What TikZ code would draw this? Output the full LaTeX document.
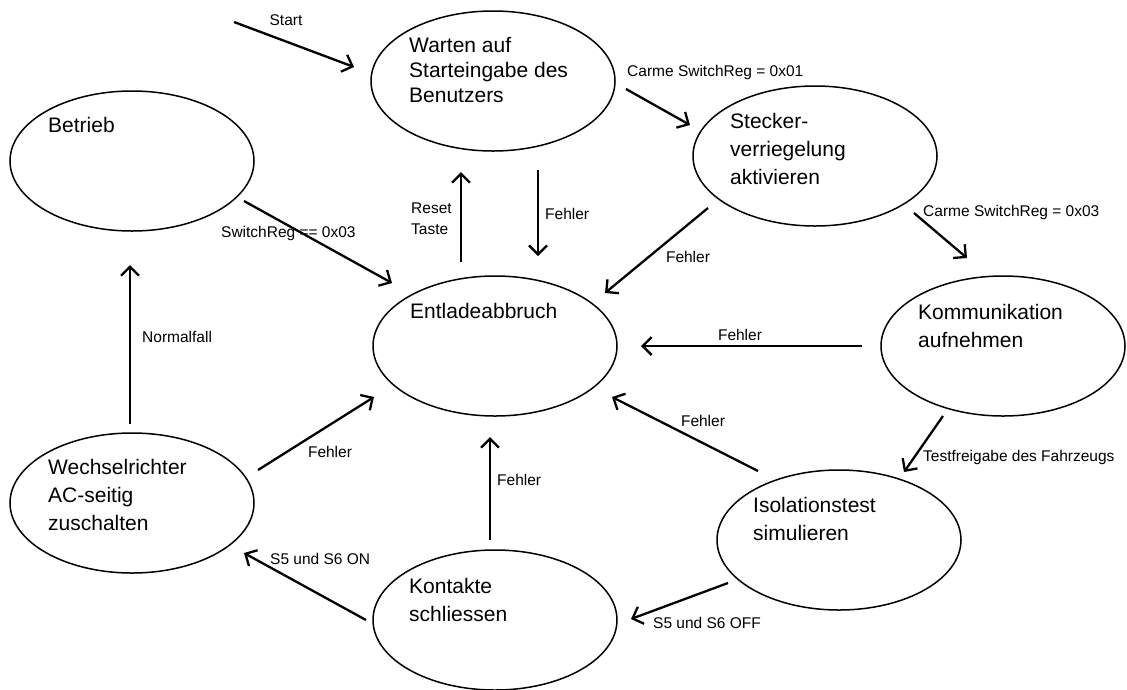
\documentclass[tikz,border=0pt]{standalone}
\usepackage{fontspec}
\setmainfont{Liberation Sans}
\usetikzlibrary{calc, shapes, arrows.meta}

\tikzset{
  zustand/.style={draw, ellipse, line width=1.5pt, minimum width=244pt, minimum height=140pt, inner sep=0pt},
  ztext/.style={anchor=base west, align=left, inner sep=0pt, font=\fontsize{21}{28}\selectfont},
  uebergang/.style={line width=2.3pt, -{Straight Barb[length=9pt,width=18pt]}},
  beschr/.style={inner sep=0pt, font=\fontsize{15.5}{21}\selectfont},
}

\begin{document}
\begin{tikzpicture}[x=1pt, y=-1pt]
        \useasboundingbox (0,0) rectangle (1127,689);
        \node[zustand] (warten) at (493,81) {};
        \node[zustand] (betrieb) at (132,161) {};
        \node[zustand] (stecker) at (815,156) {};
        \node[zustand] (entlade) at (495,346) {};
        \node[zustand] (komm) at (1003,346) {};
        \node[zustand] (wechsel) at (132,503) {};
        \node[zustand] (isol) at (839,540) {};
        \node[zustand] (kontakte) at (495,620) {};
        % texte oben links, verankert an der letzten zeile
        \node[ztext, font=\fontsize{21}{25}\selectfont] (warten-t) at ($(warten)+(-84,21)$) {Warten auf\\Starteingabe des\\Benutzers};
        \node[ztext] (betrieb-t) at ($(betrieb)+(-84,-29)$) {Betrieb};
        \node[ztext] (stecker-t) at ($(stecker)+(-85,28)$) {Stecker-\\verriegelung\\aktivieren};
        \node[ztext] (entlade-t) at ($(entlade)+(-85,-28)$) {Entladeabbruch};
        \node[ztext] (komm-t) at ($(komm)+(-85,1)$) {Kommunikation\\aufnehmen};
        \node[ztext] (wechsel-t) at ($(wechsel)+(-84,27)$) {Wechselrichter\\AC-seitig\\zuschalten};
        \node[ztext] (isol-t) at ($(isol)+(-86,0)$) {Isolationstest\\simulieren};
        \node[ztext] (kontakte-t) at ($(kontakte)+(-86,1)$) {Kontakte\\schliessen};
        % uebergaenge
        \coordinate (start) at (234,22);
        \draw[uebergang] (start) -- ($(warten)+(-139,-14)$);
        \draw[uebergang] ($(warten)+(133,8)$) -- ($(stecker)+(-125,-31)$);
        \draw[uebergang] ($(stecker)+(-107,52)$) -- ($(entlade)+(110,-53)$);
        \draw[uebergang] ($(stecker)+(99,57)$) -- ($(komm)+(-36,-88)$);
        \draw[uebergang] ($(komm)+(-141,0)$) -- ($(entlade)+(146,0)$);
        \draw[uebergang] ($(komm)+(-60,70)$) -- ($(isol)+(65,-68)$);
        \draw[uebergang] ($(isol)+(-81,-69)$) -- ($(entlade)+(117,51)$);
        \draw[uebergang] ($(isol)+(-111,43)$) -- ($(kontakte)+(136,-1)$);
        \draw[uebergang] ($(kontakte)+(-129,0)$) -- ($(wechsel)+(112,50)$);
        \draw[uebergang] ($(kontakte)+(-5,-80)$) -- ($(entlade)+(-5,91)$);
        \draw[uebergang] ($(wechsel)+(126,-33)$) -- ($(entlade)+(-121,51)$);
        \draw[uebergang] ($(wechsel)+(-2,-79)$) -- ($(betrieb)+(-2,104)$);
        \draw[uebergang] ($(betrieb)+(112,40)$) -- ($(entlade)+(-103,-63)$);
        \draw[uebergang] ($(entlade)+(-34,-84)$) -- ($(warten)+(-32,91)$);
        \draw[uebergang] ($(warten)+(45,89)$) -- ($(entlade)+(43,-90)$);
        % beschriftungen
        \node[beschr] (l-start) at (286,20) {Start};
        \node[beschr, anchor=west] (l-sw1) at (627,72) {Carme SwitchReg = 0x01};
        \node[beschr] (l-f1) at (688,257) {Fehler};
        \node[beschr, anchor=west] (l-sw3) at (923,212) {Carme SwitchReg = 0x03};
        \node[beschr] (l-f2) at (740,335) {Fehler};
        \node[beschr, anchor=west] (l-test) at (923,457) {Testfreigabe des Fahrzeugs};
        \node[beschr] (l-f3) at (703,421) {Fehler};
        \node[beschr, anchor=west] (l-off) at (653,623) {S5 und S6 OFF};
        \node[beschr, anchor=west] (l-on) at (270,559) {S5 und S6 ON};
        \node[beschr, anchor=west] (l-f4) at (497,480) {Fehler};
        \node[beschr] (l-f5) at (330,452) {Fehler};
        \node[beschr, anchor=west] (l-normal) at (142,337) {Normalfall};
        \node[beschr, anchor=west] (l-swreg) at (221,233) {SwitchReg == 0x03};
        \node[beschr, anchor=base west, align=left] (l-reset) at (411,234) {Reset\\Taste};
        \node[beschr, anchor=west] (l-f6) at (545,214) {Fehler};
\end{tikzpicture}
\end{document}
